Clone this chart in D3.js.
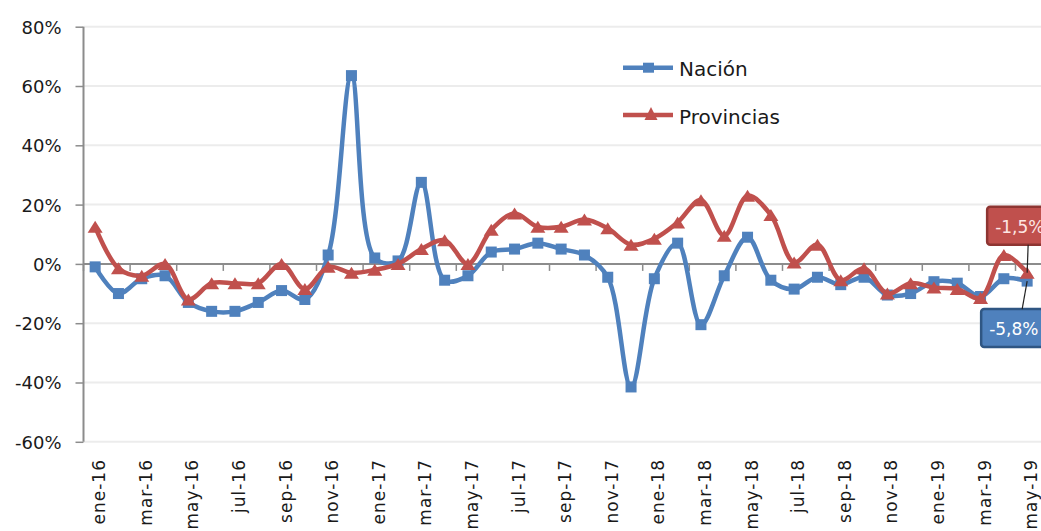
<!DOCTYPE html>
<html>
<head>
<meta charset="utf-8">
<script src="https://cdn.jsdelivr.net/npm/d3@7"></script>
<style>
body { margin: 0; background: #fff; }
svg { display: block; font-family: "DejaVu Sans", Verdana, sans-serif; }
</style>
</head>
<body>
<svg></svg>
<script>
var months = ["ene-16","feb-16","mar-16","abr-16","may-16","jun-16","jul-16","ago-16","sep-16","oct-16","nov-16","dic-16",
              "ene-17","feb-17","mar-17","abr-17","may-17","jun-17","jul-17","ago-17","sep-17","oct-17","nov-17","dic-17",
              "ene-18","feb-18","mar-18","abr-18","may-18","jun-18","jul-18","ago-18","sep-18","oct-18","nov-18","dic-18",
              "ene-19","feb-19","mar-19","abr-19","may-19"];
var nacion = [-1, -10, -5, -4, -13, -16, -16, -13, -9, -12, 3, 63.5,
              2, 1, 27.5, -5.5, -4, 4, 5, 7, 5, 3, -4.5, -41.5,
              -5, 7, -20.5, -4, 9, -5.5, -8.5, -4.5, -7, -4.5, -10.5, -10,
              -6, -6.5, -11, -5, -5.8];
var provincias = [12.5, -1.5, -4, 0, -12, -6.5, -6.5, -6.5, 0, -8.5, -1, -3,
                  -2, 0, 5, 8, 0, 11.5, 17, 12.5, 12.5, 15, 12, 6.5,
                  8.5, 14, 21.5, 9.5, 23, 16.5, 0.5, 6.5, -5.5, -1.5, -10, -6.5,
                  -8, -8.5, -11.5, 3, -3];
var yTicks = [-60, -40, -20, 0, 20, 40, 60, 80];
var seriesNames = ["Nación", "Provincias"];
var seriesColors = ["#4F81BD", "#C0504D"];
var seriesBorders = ["#2F5683", "#8E3532"];
var endLabels = ["-5,8%", "-1,5%"];

var width = 1041, height = 531;
var svg = d3.select("svg").attr("width", width).attr("height", height);

var x = d3.scaleBand().domain(months).range([83.5, 83.5 + 41 * 23.3]);
var y = d3.scaleLinear().domain([-60, 80]).range([441.8, 26.7]);
function cx(m) { return x(m) + x.bandwidth() / 2; }

// gridlines
svg.append("g").selectAll("line").data(yTicks).enter().append("line")
  .attr("x1", 84).attr("x2", width)
  .attr("y1", function(d) { return y(d); }).attr("y2", function(d) { return y(d); })
  .style("stroke", "#ececec").style("stroke-width", 2);

// y axis
var yAxis = svg.append("g").attr("transform", "translate(83.5,0)")
  .call(d3.axisLeft(y).tickValues(yTicks).tickSize(8).tickPadding(14)
    .tickFormat(function(d) { return d + "%"; }));
yAxis.select(".domain").attr("d", "M0," + y(80) + "V" + y(-60)).style("stroke", "#8c8c8c").style("stroke-width", 2);
yAxis.selectAll(".tick line").style("stroke", "#8c8c8c").style("stroke-width", 1.5);
yAxis.selectAll("text").style("font-size", "18px").style("fill", "#1a1a1a")
  .style("font-family", "DejaVu Sans, Verdana, sans-serif").attr("dy", "0.36em");

// category axis at 0
var edges = months.filter(function(d, i) { return i % 2 == 0; });
svg.append("line").attr("x1", 83.5).attr("x2", width).attr("y1", y(0)).attr("y2", y(0))
  .style("stroke", "#8c8c8c").style("stroke-width", 2);
svg.append("g").selectAll("line").data(edges).enter().append("line")
  .attr("x1", function(d) { return x(d); }).attr("x2", function(d) { return x(d); })
  .attr("y1", y(0)).attr("y2", y(0) + 7)
  .style("stroke", "#8c8c8c").style("stroke-width", 1.5);

// category labels
var xAxis = svg.append("g").attr("transform", "translate(0,459)")
  .call(d3.axisBottom(x).tickValues(edges).tickSize(0));
xAxis.select(".domain").remove();
xAxis.selectAll("text")
  .attr("transform", "rotate(-90)")
  .attr("text-anchor", "end")
  .attr("x", 0).attr("y", 10).attr("dy", 0)
  .style("font-size", "17px").style("letter-spacing", "1px").style("fill", "#1a1a1a")
  .style("font-family", "DejaVu Sans, Verdana, sans-serif");

// lines
var line = d3.line()
  .x(function(d, i) { return cx(months[i]); })
  .y(function(d) { return y(d); })
  .curve(d3.curveCatmullRom.alpha(0.5));

function triangle(px, py, w, h) {
  return "M" + px + "," + (py - h / 2) + "L" + (px + w / 2) + "," + (py + h / 2) + "L" + (px - w / 2) + "," + (py + h / 2) + "Z";
}

[nacion, provincias].forEach(function(values, s) {
  var g = svg.append("g");
  g.append("path").datum(values).attr("d", line)
    .style("fill", "none").style("stroke", seriesColors[s]).style("stroke-width", 4.5)
    .style("stroke-linejoin", "round");
  if (s == 0) {
    g.selectAll("rect").data(values).enter().append("rect")
      .attr("x", function(d, i) { return cx(months[i]) - 5.5; })
      .attr("y", function(d) { return y(d) - 5.5; })
      .attr("width", 11).attr("height", 11)
      .style("fill", seriesColors[s]);
  } else {
    g.selectAll("path.m").data(values).enter().append("path").attr("class", "m")
      .attr("d", function(d, i) { return triangle(cx(months[i]), y(d), 15, 12); })
      .style("fill", seriesColors[s]);
  }
});

// legend
seriesNames.forEach(function(name, s) {
  var ly = s == 0 ? 67.7 : 115;
  svg.append("line").attr("x1", 623).attr("x2", 673).attr("y1", ly).attr("y2", ly)
    .style("stroke", seriesColors[s]).style("stroke-width", 4.5);
  if (s == 0) {
    svg.append("rect").attr("x", 643).attr("y", ly - 5).attr("width", 11).attr("height", 10).style("fill", seriesColors[s]);
  } else {
    svg.append("path").attr("d", triangle(651, ly - 1.5, 13, 13)).style("fill", seriesColors[s]);
  }
  svg.append("text").attr("x", 679).attr("y", ly + 8.5).text(name)
    .style("font-size", "20px").style("fill", "#1a1a1a");
});

// end labels
var last = months[months.length - 1];
var boxes = [
  { v: nacion[nacion.length - 1], dx: -46, dy: 28, lx: -5, ly: 28 },
  { v: provincias[provincias.length - 1], dx: -40, dy: -66, lx: 1, ly: -28 }
];
boxes.forEach(function(b, s) {
  var px = cx(last), py = y(b.v);
  svg.append("rect").attr("x", px + b.dx).attr("y", py + b.dy).attr("width", 90).attr("height", 38).attr("rx", 3)
    .style("fill", seriesColors[s]).style("stroke", seriesBorders[s]).style("stroke-width", 2.5);
  svg.append("line").attr("x1", px + b.lx).attr("y1", py + b.ly).attr("x2", px).attr("y2", py)
    .style("stroke", "#222").style("stroke-width", 1.2);
  svg.append("text").attr("x", px + b.dx + 8).attr("y", py + b.dy + 26).text(endLabels[s])
    .style("font-size", "17px").style("fill", s == 0 ? "#ffffff" : "#fde6e4");
});
</script>
</body>
</html>
